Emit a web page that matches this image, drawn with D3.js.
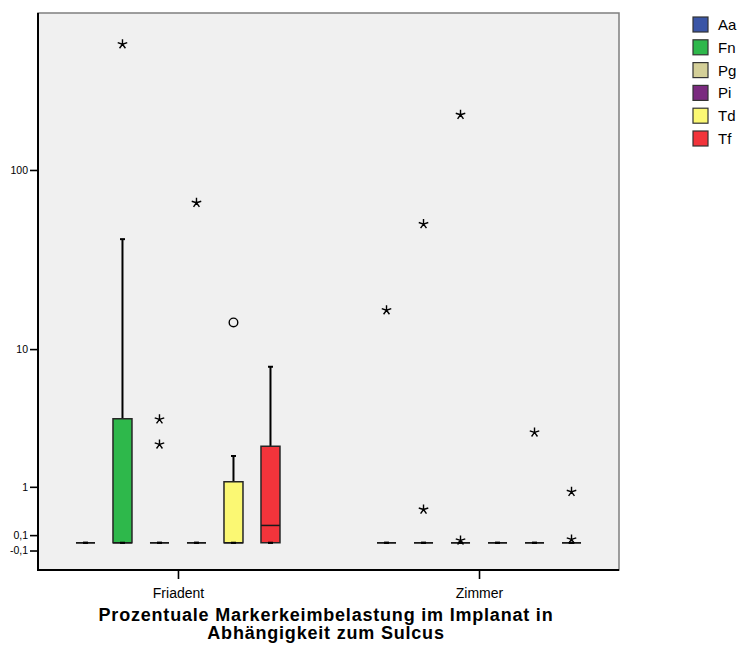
<!DOCTYPE html>
<html>
<head>
<meta charset="utf-8">
<script src="https://cdn.jsdelivr.net/npm/d3@7"></script>
<style>
  html, body { margin: 0; padding: 0; background: #ffffff; }
  svg { display: block; font-family: "Liberation Sans", Arial, sans-serif; }
</style>
</head>
<body>
<svg id="chart" width="741" height="650"></svg>
<script>
// ---------- data ----------
const groups = ["Friadent", "Zimmer"];
const species = ["Aa", "Fn", "Pg", "Pi", "Td", "Tf"];
const speciesColors = ["#3a55a6", "#2eb84b", "#d4cf98", "#7a2a7f", "#fbf873", "#f2343b"];

// box statistics per species: [lower whisker, Q1, median, Q3, upper whisker]
const friadentBoxes = [
  [0, 0, 0, 0, 0],
  [0, 0, 0, 3.64, 41.9],
  [0, 0, 0, 0, 0],
  [0, 0, 0, 0, 0],
  [0, 0, 0, 1.13, 1.93],
  [0, 0, 0.24, 2.30, 7.84]
];
const zimmerBoxes = [
  [0, 0, 0, 0, 0],
  [0, 0, 0, 0, 0],
  [0, 0, 0, 0, 0],
  [0, 0, 0, 0, 0],
  [0, 0, 0, 0, 0],
  [0, 0, 0, 0, 0]
];

// outliers: [species, value, kind]  kind: "o" = outlier, "*" = extreme
const friadentOutliers = [
  ["Fn", 478, "*"],
  ["Pg", 3.61, "*"],
  ["Pg", 2.38, "*"],
  ["Pi", 66.3, "*"],
  ["Td", 14.3, "o"]
];
const zimmerOutliers = [
  ["Aa", 16.8, "*"],
  ["Fn", 50.7, "*"],
  ["Fn", 0.51, "*"],
  ["Pg", 199, "*"],
  ["Pg", 0.03, "*"],
  ["Td", 2.92, "*"],
  ["Tf", 0.88, "*"],
  ["Tf", 0.043, "*"]
];

const yTicks = [-0.1, 0.1, 1, 10, 100];
const yTickLabels = ["-0,1", "0,1", "1", "10", "100"];
const yDomain = [-0.40, 704];
const titleLines = ["Prozentuale Markerkeimbelastung im Implanat in", "Abhängigkeit zum Sulcus"];

// ---------- layout ----------
const svg = d3.select("#chart");
const plot = { left: 38, right: 619, top: 13, bottom: 570 };

const x = d3.scalePoint().domain(groups).range([plot.left, plot.right]).padding(0.465);
const xInner = d3.scaleBand().domain(species).range([-111, 111]);
const y = d3.scaleSymlog().constant(1).domain(yDomain).range([plot.bottom, plot.top]);
const color = d3.scaleOrdinal().domain(species).range(speciesColors);

const boxW = 19;
const capW = 5;

// plot background + top/right border
svg.append("rect")
  .attr("x", plot.left).attr("y", plot.top)
  .attr("width", plot.right - plot.left).attr("height", plot.bottom - plot.top)
  .attr("fill", "#f0f0f0").attr("stroke", "#7f7f7f").attr("stroke-width", 1.5);

// ---------- boxes ----------
const boxData = [];
groups.forEach((g, gi) => {
  const boxes = gi === 0 ? friadentBoxes : zimmerBoxes;
  species.forEach((s, si) => {
    boxData.push({ g, s, stats: boxes[si] });
  });
});
const cx = d => x(d.g) + xInner(d.s) + xInner.bandwidth() / 2;

const boxG = svg.append("g");
boxData.forEach(d => {
  const c = cx(d);
  const [lo, q1, med, q3, hi] = d.stats;
  const g = boxG.append("g");
  // whiskers
  if (hi > q3) {
    g.append("line").attr("x1", c).attr("x2", c).attr("y1", y(q3)).attr("y2", y(hi))
      .attr("stroke", "#000").attr("stroke-width", 2);
  }
  g.append("line").attr("x1", c - capW / 2).attr("x2", c + capW / 2).attr("y1", y(hi)).attr("y2", y(hi))
    .attr("stroke", "#000").attr("stroke-width", 2);
  if (lo < q1) {
    g.append("line").attr("x1", c).attr("x2", c).attr("y1", y(q1)).attr("y2", y(lo))
      .attr("stroke", "#000").attr("stroke-width", 2);
  }
  // box (path so a zero-height box still shows as a line)
  const x0 = c - boxW / 2, x1 = c + boxW / 2;
  const yTop = y(q3), yBot = y(q1);
  g.append("path")
    .attr("d", `M${x0},${yBot}L${x1},${yBot}L${x1},${yTop}L${x0},${yTop}Z`)
    .attr("fill", color(d.s)).attr("stroke", "#262626").attr("stroke-width", 1.5);
  // median
  g.append("line").attr("x1", x0).attr("x2", x1).attr("y1", y(med)).attr("y2", y(med))
    .attr("stroke", "#1a1a1a").attr("stroke-width", 1.5);
  // lower cap
  g.append("line").attr("x1", c - capW / 2).attr("x2", c + capW / 2).attr("y1", y(lo)).attr("y2", y(lo))
    .attr("stroke", "#000").attr("stroke-width", 2.2);
});

// ---------- outliers ----------
const asterisk5 = {
  draw(ctx, size) {
    const r = Math.sqrt(size) / 2;
    for (let k = 0; k < 5; k++) {
      const a = -Math.PI / 2 + k * 2 * Math.PI / 5;
      ctx.moveTo(0, 0);
      ctx.lineTo(r * Math.cos(a), r * Math.sin(a));
    }
  }
};
const outData = [];
groups.forEach((g, gi) => {
  (gi === 0 ? friadentOutliers : zimmerOutliers).forEach(o => outData.push({ g, s: o[0], v: o[1], kind: o[2] }));
});
const outG = svg.append("g");
outG.selectAll("path.ext").data(outData.filter(d => d.kind === "*")).join("path")
  .attr("class", "ext")
  .attr("transform", d => `translate(${cx(d)},${y(d.v)})`)
  .attr("d", d3.symbol().type(asterisk5).size(100))
  .attr("fill", "none").attr("stroke", "#000").attr("stroke-width", 1.4);
outG.selectAll("circle.out").data(outData.filter(d => d.kind === "o")).join("circle")
  .attr("class", "out")
  .attr("cx", cx).attr("cy", d => y(d.v)).attr("r", 4.3)
  .attr("fill", "none").attr("stroke", "#000").attr("stroke-width", 1.4);

// ---------- axes ----------
const yAxis = d3.axisLeft(y).tickValues(yTicks).tickFormat((d, i) => yTickLabels[i])
  .tickSize(8).tickSizeOuter(0).tickPadding(2);
const yg = svg.append("g").attr("transform", `translate(${plot.left},0)`).call(yAxis);
yg.select(".domain").attr("stroke", "#000").attr("stroke-width", 2)
  .attr("d", `M0,${plot.top}V${plot.bottom}`);
yg.selectAll(".tick line").attr("stroke", "#000").attr("stroke-width", 1.6);
yg.selectAll(".tick text").attr("font-size", 10.5).attr("fill", "#000")
  .attr("font-family", "'Liberation Sans', Arial, sans-serif");

const xAxis = d3.axisBottom(x).tickSize(9).tickSizeOuter(0).tickPadding(9);
const xg = svg.append("g").attr("transform", `translate(0,${plot.bottom})`).call(xAxis);
xg.select(".domain").attr("stroke", "#000").attr("stroke-width", 2)
  .attr("d", `M${plot.left - 1},0H${plot.right}`);
xg.selectAll(".tick line").attr("stroke", "#000").attr("stroke-width", 1.6);
xg.selectAll(".tick text").attr("font-size", 14).attr("fill", "#000")
  .attr("font-family", "'Liberation Sans', Arial, sans-serif");

// ---------- title ----------
const title = svg.append("text").attr("text-anchor", "middle")
  .attr("font-weight", "bold").attr("font-size", 18).attr("letter-spacing", 0.8).attr("fill", "#000");
titleLines.forEach((t, i) => {
  title.append("tspan").attr("x", 326).attr("y", 620.5 + i * 18).text(t);
});

// ---------- legend ----------
const legend = svg.append("g").attr("transform", "translate(693,17)");
const items = legend.selectAll("g").data(species).join("g")
  .attr("transform", (d, i) => `translate(0,${i * 22.8})`);
items.append("rect").attr("width", 15).attr("height", 15)
  .attr("fill", d => color(d)).attr("stroke", "#333").attr("stroke-width", 1.2);
items.append("text").attr("x", 25).attr("y", 13).attr("font-size", 15).attr("fill", "#000").text(d => d);
</script>
</body>
</html>
